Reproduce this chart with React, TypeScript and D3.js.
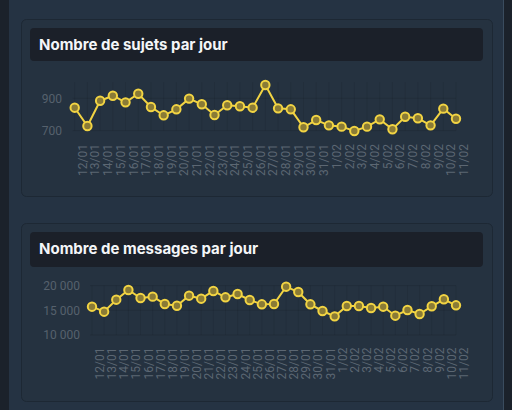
import React from "react";
import * as d3 from "d3";

const dates = ["12/01","13/01","14/01","15/01","16/01","17/01","18/01","19/01","20/01","21/01","22/01","23/01","24/01","25/01","26/01","27/01","28/01","29/01","30/01","31/01","1/02","2/02","3/02","4/02","5/02","6/02","7/02","8/02","9/02","10/02","11/02"];
const sujets = [842,729,885,916,875,928,846,795,832,898,863,797,857,851,842,982,838,832,721,766,733,725,698,725,770,709,786,777,733,836,774];
const messages = [15730,14720,17150,19110,17490,17760,16280,15930,17960,17350,18910,17630,18300,17090,16210,16280,19780,18700,16210,14860,13780,15870,15870,15470,15730,13910,15060,14250,15810,17230,16010];
const sujetsTicks = [700, 900];
const messagesTicks = [10000, 15000, 20000];

const YELLOW = "#f2d443";
const fmt = (v: number) => d3.format(",")(v).replace(/,/g, " ");

function Card(props: { y: number; h: number; title: string; titleH: number }) {
  const { y, h, title, titleH } = props;
  return (
    <g>
      <rect x={21.5} y={y + 0.5} width={471} height={h} rx={5} fill="#253240" stroke="#1d2834" strokeWidth={1} />
      <rect x={30} y={y + 9} width={453} height={titleH} rx={4} fill="#1b2029" />
      <text x={39} y={y + 30.5} fill="#f4f6f8" fontFamily="Inter, Roboto, sans-serif" fontWeight={700} fontSize={15}>{title}</text>
    </g>
  );
}

function LineChart(props: { values: number[]; ticks: number[]; x0: number; x1: number; yDomain: [number, number]; yRange: [number, number]; tickX: number; labelTop: number }) {
  const { values, ticks, x0, x1, yDomain, yRange, tickX, labelTop } = props;
  const x = d3.scalePoint<string>().domain(dates).range([x0, x1]);
  const y = d3.scaleLinear().domain(yDomain).range(yRange);
  const line = d3.line<number>().x((_, i) => x(dates[i]) as number).y((d) => y(d));
  const top = yRange[1];
  const bottom = yRange[0];
  return (
    <g>
      {dates.map((d) => (
        <line key={"g" + d} x1={x(d)} x2={x(d)} y1={top} y2={bottom} stroke="rgba(0,0,0,0.08)" strokeWidth={1} />
      ))}
      {ticks.map((t) => (
        <line key={"h" + t} x1={x0 - 2} x2={x1} y1={y(t)} y2={y(t)} stroke="rgba(0,0,0,0.1)" strokeWidth={1} />
      ))}
      {ticks.map((t) => (
        <text key={"t" + t} x={tickX} y={y(t)} dy="0.36em" textAnchor="end" fill="#56616d" fontFamily="Roboto, sans-serif" fontSize={12}>{fmt(t)}</text>
      ))}
      {dates.map((d) => (
        <text key={"l" + d} transform={`translate(${(x(d) as number) + 12},${labelTop}) rotate(-90)`} textAnchor="end" fill="#5c6773" fontFamily="Roboto, sans-serif" fontSize={12}>{d}</text>
      ))}
      <path d={line(values) || ""} fill="none" stroke={YELLOW} strokeWidth={2} />
      {values.map((v, i) => (
        <circle key={"c" + i} cx={x(dates[i])} cy={y(v)} r={4.2} fill="#8a7b36" stroke={YELLOW} strokeWidth={2} />
      ))}
    </g>
  );
}

export default function App() {
  return (
    <svg width={512} height={410} style={{ position: "absolute", left: 0, top: 0, display: "block" }}>
      <rect x={0} y={0} width={512} height={410} fill="#1b222b" />
      <rect x={9} y={0} width={495} height={410} fill="#253343" />
      <line x1={503.5} x2={503.5} y1={0} y2={410} stroke="#3a4c5e" strokeWidth={1} />
      <Card y={19} h={177} title="Nombre de sujets par jour" titleH={33} />
      <Card y={223} h={178} title="Nombre de messages par jour" titleH={35} />
      <LineChart values={sujets} ticks={sujetsTicks} x0={74.7} x1={456} yDomain={[700, 1000]} yRange={[130.7, 82.1]} tickX={62} labelTop={144} />
      <LineChart values={messages} ticks={messagesTicks} x0={92} x1={456} yDomain={[10000, 20000]} yRange={[335, 285.6]} tickX={80} labelTop={347.5} />
    </svg>
  );
}
